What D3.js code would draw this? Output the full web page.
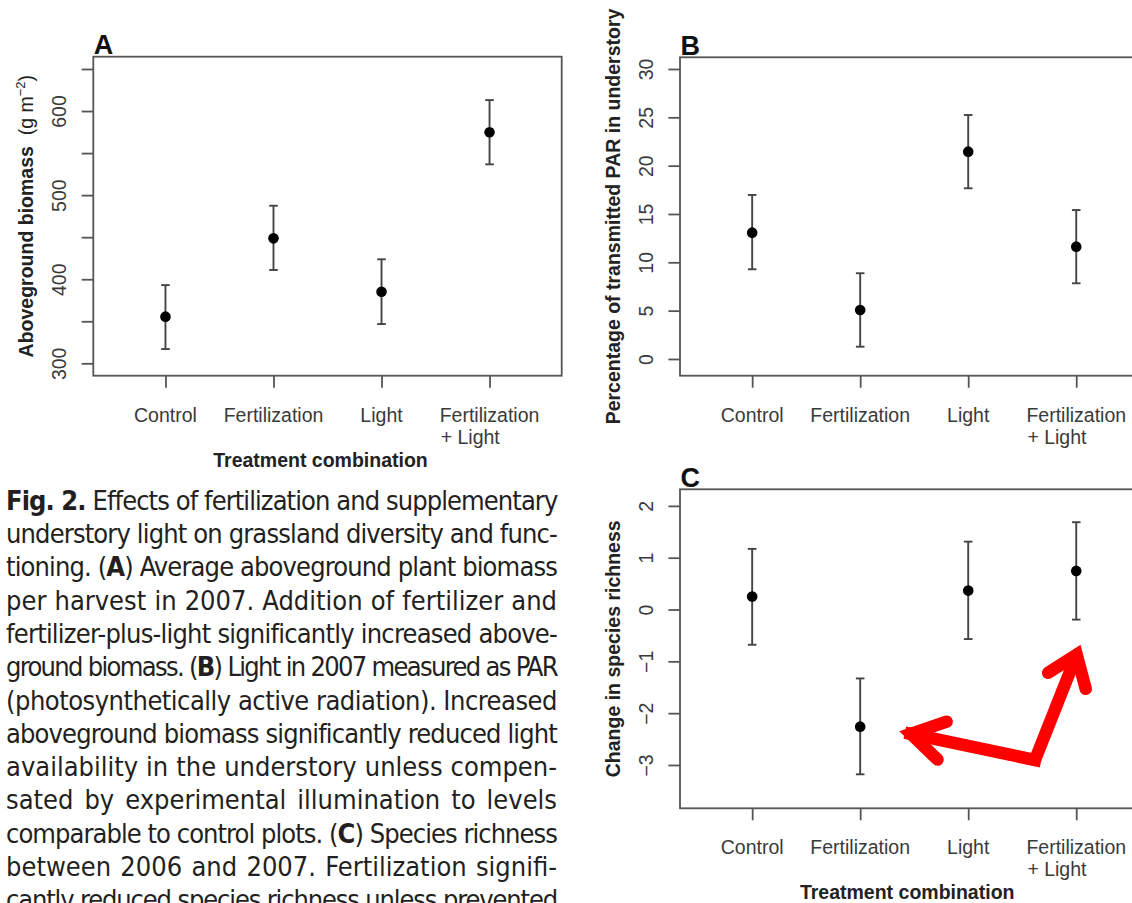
<!DOCTYPE html>
<html><head><meta charset="utf-8">
<script src="https://cdn.jsdelivr.net/npm/d3@7"></script>
<style>body{margin:0;background:#fff}svg{display:block}</style>
</head><body><svg id="chart" width="1132" height="903"></svg>
<script>
// ---------------- data ----------------
const categories = ["Control", "Fertilization", "Light", "Fertilization + Light"];
const categoryLines = [["Control"], ["Fertilization"], ["Light"], ["Fertilization", "+ Light"]];

const biomassMean = [355.5, 448.6, 385.2, 574.7];
const biomassLow  = [317.0, 411.0, 346.7, 536.6];
const biomassHigh = [393.0, 487.4, 423.7, 613.0];

const parMean = [13.07, 5.07, 21.45, 11.62];
const parLow  = [9.28, 1.27, 17.66, 7.83];
const parHigh = [16.97, 8.87, 25.24, 15.41];

const richMean = [0.25, -2.26, 0.365, 0.745];
const richLow  = [-0.68, -3.18, -0.57, -0.195];
const richHigh = [1.17, -1.33, 1.31, 1.685];

const biomassTicks = [300, 350, 400, 450, 500, 550, 600, 650];
const biomassTickLabels = [300, 400, 500, 600];
const parTicks = [0, 5, 10, 15, 20, 25, 30];
const richTicks = [-3, -2, -1, 0, 1, 2];

// annotation arrows in panel C, as [category index, richness value]
const arrowLeftHead  = [[1.80, -2.165], [1.470, -2.400], [1.716, -2.895]];
const arrowLeftShaft = [[1.470, -2.400], [2.618, -2.904]];
const arrowUpShaft   = [[2.618, -2.904], [3.004, -0.872]];
const arrowUpHead    = [[2.740, -1.222], [3.004, -0.872], [3.088, -1.530]];

const captionLines = [
  [["Fig. 2.", true], [" Effects of fertilization and supplementary", false]],
  [["understory light on grassland diversity and func-", false]],
  [["tioning. (", false], ["A", true], [") Average aboveground plant biomass", false]],
  [["per harvest in 2007. Addition of fertilizer and", false]],
  [["fertilizer-plus-light significantly increased above-", false]],
  [["ground biomass. (", false], ["B", true], [") Light in 2007 measured as PAR", false]],
  [["(photosynthetically active radiation). Increased", false]],
  [["aboveground biomass significantly reduced light", false]],
  [["availability in the understory unless compen-", false]],
  [["sated by experimental illumination to levels", false]],
  [["comparable to control plots. (", false], ["C", true], [") Species richness", false]],
  [["between 2006 and 2007. Fertilization signifi-", false]],
  [["cantly reduced species richness unless prevented", false]]
];

// ---------------- drawing ----------------
const svg = d3.select("#chart");
svg.append("rect").attr("width", 1132).attr("height", 903).attr("fill", "#fff");

const FONT = "'Liberation Sans', Arial, Helvetica, sans-serif";
const AXIS_COL = "#555";
const TXT_COL = "#3a3a3a";

const panels = [
  { letter: "A", left: 93.3, right: 561.7, top: 56.7, bottom: 375.7,
    domain: [285.3, 664.6], mean: biomassMean, low: biomassLow, high: biomassHigh,
    ticks: biomassTicks, labels: biomassTickLabels, xTitle: true,
    yTitle: [["Aboveground biomass", "bold"], ["  (g m", "normal"], ["\u22122", "sup"], [")", "normal"]] },
  { letter: "B", left: 680, right: 1148.4, top: 57.3, bottom: 375.7,
    domain: [-1.73, 31.21], mean: parMean, low: parLow, high: parHigh,
    ticks: parTicks, labels: parTicks, xTitle: false,
    yTitle: [["Percentage of transmitted PAR in understory", "bold"]] },
  { letter: "C", left: 680, right: 1148.4, top: 489.3, bottom: 808.3,
    domain: [-3.836, 2.32], mean: richMean, low: richLow, high: richHigh,
    ticks: richTicks, labels: richTicks, xTitle: true,
    yTitle: [["Change in species richness", "bold"]] }
];

const fmt = v => (v < 0 ? "\u2212" + Math.abs(v) : String(v));
let cScales = null;

function textWidth(s) {
  const t = svg.append("text").style("font-family", FONT).style("font-size", "19.5px").text(s);
  const w = t.node().getComputedTextLength();
  t.remove();
  return w;
}

panels.forEach(p => {
  const x = d3.scalePoint().domain(categories).range([p.left, p.right]).padding(0.668);
  const y = d3.scaleLinear().domain(p.domain).range([p.bottom, p.top]);
  const g = svg.append("g");

  // y axis
  const ya = g.append("g").attr("transform", `translate(${p.left},0)`)
    .call(d3.axisLeft(y).tickValues(p.ticks).tickSize(11.6)
      .tickFormat(v => p.labels.includes(v) ? fmt(v) : ""));
  ya.select(".domain").remove();
  ya.selectAll(".tick line").attr("stroke", AXIS_COL).attr("stroke-width", 1.8);
  ya.selectAll(".tick text")
    .attr("transform", "rotate(-90)").attr("x", 0).attr("y", -27.2).attr("dy", 0)
    .attr("text-anchor", "middle").attr("fill", TXT_COL)
    .style("font-family", FONT).style("font-size", "19.5px");

  // x axis
  const xa = g.append("g").attr("transform", `translate(0,${p.bottom})`)
    .call(d3.axisBottom(x).tickSize(12).tickFormat(""));
  xa.select(".domain").remove();
  xa.selectAll(".tick line").attr("stroke", AXIS_COL).attr("stroke-width", 1.8);
  xa.selectAll(".tick text").remove();

  categories.forEach((c, i) => {
    const lines = categoryLines[i];
    const w1 = textWidth(lines[0]);
    const x0 = x(c) - w1 / 2;
    const t = g.append("text").attr("text-anchor", "start").attr("fill", TXT_COL)
      .style("font-family", FONT).style("font-size", "19.5px");
    t.append("tspan").attr("x", x0).attr("y", p.bottom + 46).text(lines[0]);
    if (lines.length > 1) {
      t.append("tspan").attr("x", x0 + 1).attr("y", p.bottom + 67.8).text(lines[1]);
    }
  });

  // box
  g.append("rect").attr("x", p.left).attr("y", p.top)
    .attr("width", p.right - p.left).attr("height", p.bottom - p.top)
    .attr("fill", "none").attr("stroke", AXIS_COL).attr("stroke-width", 1.8);

  // error bars
  const cap = 4.3;
  categories.forEach((c, i) => {
    const cx = x(c);
    g.append("line").attr("x1", cx).attr("x2", cx)
      .attr("y1", y(p.low[i])).attr("y2", y(p.high[i]))
      .attr("stroke", "#444").attr("stroke-width", 1.9);
    [p.low[i], p.high[i]].forEach(v => {
      g.append("line").attr("x1", cx - cap).attr("x2", cx + cap)
        .attr("y1", y(v)).attr("y2", y(v))
        .attr("stroke", "#444").attr("stroke-width", 1.9);
    });
    g.append("circle").attr("cx", cx).attr("cy", y(p.mean[i])).attr("r", 5.3).attr("fill", "#000");
  });

  // panel letter
  g.append("text").attr("x", p.left + 0.5).attr("y", p.top - 2.5)
    .attr("fill", "#111").style("font-family", FONT).style("font-weight", "bold")
    .style("font-size", "27px").text(p.letter);

  // y title
  const cy = (p.top + p.bottom) / 2;
  const yt = g.append("text").attr("transform", `translate(${p.left - 60},${cy}) rotate(-90)`)
    .attr("text-anchor", "middle").attr("fill", "#222")
    .style("font-family", FONT).style("font-size", "19.5px")
    .attr("xml:space", "preserve");
  let supShift = 0;
  p.yTitle.forEach(([s, kind]) => {
    const ts = yt.append("tspan").text(s);
    if (kind === "bold") ts.style("font-weight", "bold");
    if (kind === "sup") { ts.style("font-size", "13px").attr("dy", -8); supShift = 8; }
    else if (supShift) { ts.attr("dy", supShift); supShift = 0; }
  });

  if (p.xTitle) {
    g.append("text").attr("x", (p.left + p.right) / 2 - 7).attr("y", p.bottom + 91)
      .attr("text-anchor", "middle").attr("fill", "#222")
      .style("font-family", FONT).style("font-weight", "bold").style("font-size", "19.5px")
      .text("Treatment combination");
  }

  if (p.letter === "C") cScales = { x, y };
});

// ---------------- annotation arrows (panel C) ----------------
const xi = d3.scaleLinear().domain([0, 3])
  .range([cScales.x(categories[0]), cScales.x(categories[3])]);
const ay = cScales.y;
const line = d3.line().x(d => xi(d[0])).y(d => ay(d[1]));
const RED = "#ff0000";
const aw = 12.5;
svg.append("path").attr("d", line(arrowLeftShaft)).attr("fill", "none")
  .attr("stroke", RED).attr("stroke-width", aw).attr("stroke-linecap", "square");
svg.append("path").attr("d", line(arrowUpShaft)).attr("fill", "none")
  .attr("stroke", RED).attr("stroke-width", aw).attr("stroke-linecap", "butt");
[arrowLeftHead, arrowUpHead].forEach(h => {
  svg.append("path").attr("d", line(h)).attr("fill", "none")
    .attr("stroke", RED).attr("stroke-width", aw)
    .attr("stroke-linecap", "round").attr("stroke-linejoin", "miter");
});

// ---------------- caption (justified by word spacing) ----------------
const capG = svg.append("g");
const CAP_W = 551;
captionLines.forEach((segs, k) => {
  const t = capG.append("text").attr("x", 6).attr("y", 509.7 + 33.3 * k)
    .attr("fill", "#231f20")
    .style("font-family", "'Liberation Sans Narrow', 'Arial Narrow', 'DejaVu Sans Condensed', sans-serif")
    .style("font-stretch", "condensed")
    .style("font-size", "27px")
    .attr("xml:space", "preserve");
  segs.forEach(([s, b]) => {
    const ts = t.append("tspan").text(s);
    if (b) ts.style("font-weight", "bold");
  });
  const full = segs.map(s => s[0]).join("");
  const nSpaces = (full.match(/ /g) || []).length;
  let w = t.node().getComputedTextLength();
  if (w > CAP_W) {
    const ls = (CAP_W - w) / full.length;
    t.style("letter-spacing", ls + "px");
    w = t.node().getComputedTextLength();
  }
  if (nSpaces > 0 && w < CAP_W) {
    t.style("word-spacing", ((CAP_W - w) / nSpaces) + "px");
  }
});
</script></body></html>
